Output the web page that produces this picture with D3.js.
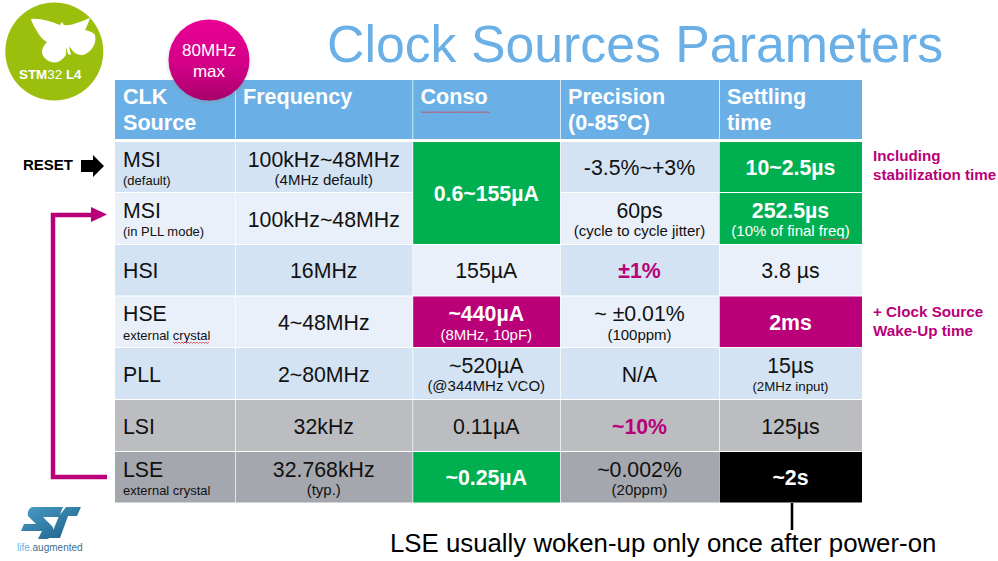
<!DOCTYPE html>
<html>
<head>
<meta charset="utf-8">
<script src="https://cdn.jsdelivr.net/npm/d3@7"></script>
<style>
  html, body { margin: 0; background: #fff; }
  text { font-family: "Liberation Sans", Arial, sans-serif; }
</style>
</head>
<body>
<svg id="chart" width="998" height="561"></svg>
<script>
var title = 'Clock Sources Parameters';
var headers = [['CLK', 'Source'], ['Frequency'], ['Conso'], ['Precision', '(0-85°C)'], ['Settling', 'time']];
var sources = ['MSI', 'MSI', 'HSI', 'HSE', 'PLL', 'LSI', 'LSE'];
var sourceNotes = ['(default)', '(in PLL mode)', '', 'external crystal', '', '', 'external crystal'];
var frequency = ['100kHz~48MHz', '100kHz~48MHz', '16MHz', '4~48MHz', '2~80MHz', '32kHz', '32.768kHz'];
var frequencyNotes = ['(4MHz default)', '', '', '', '', '', '(typ.)'];
var conso = ['0.6~155µA', '', '155µA', '~440µA', '~520µA', '0.11µA', '~0.25µA'];
var consoNotes = ['', '', '', '(8MHz, 10pF)', '(@344MHz VCO)', '', ''];
var precision = ['-3.5%~+3%', '60ps', '±1%', '~ ±0.01%', 'N/A', '~10%', '~0.002%'];
var precisionNotes = ['', '(cycle to cycle jitter)', '', '(100ppm)', '', '', '(20ppm)'];
var settling = ['10~2.5µs', '252.5µs', '3.8 µs', '2ms', '15µs', '125µs', '~2s'];
var settlingNotes = ['', '(10% of final freq)', '', '', '(2MHz input)', '', ''];

var mains = [sources, frequency, conso, precision, settling];
var notes = [sourceNotes, frequencyNotes, consoNotes, precisionNotes, settlingNotes];

var svg = d3.select('#chart');
var defs = svg.append('defs');

var blue = '#6ab0e6', rowDark = '#d3e3f4', rowLight = '#e9f0f9', gray1 = '#bbbdc1', gray2 = '#a5a7ae';
var green = '#00b050', magenta = '#b90078', ink = '#111';

// table grid
var x = d3.scaleLinear().domain([0, 1, 2, 3, 4, 5]).range([115, 235, 412.5, 560, 719, 862]);
var y = d3.scaleLinear().domain([0, 1, 2, 3, 4, 5, 6, 7]).range([142, 193, 245, 296.5, 348, 400, 452, 503.5]);

function cellFill(r, c) {
  if (r === 0 && c === 2 || r === 1 && c === 2) return green;
  if (c === 4 && r < 2) return green;
  if (r === 6 && c === 2) return green;
  if (r === 3 && (c === 2 || c === 4)) return magenta;
  if (r === 6 && c === 4) return '#000';
  if (r === 5) return gray1;
  if (r === 6) return gray2;
  if (r === 0 || r === 4) return rowDark;
  if (r === 2) return (c === 2 || c === 4) ? rowLight : rowDark;
  return rowLight;
}
function cellInk(r, c) {
  var f = cellFill(r, c);
  if (f === green || f === magenta || f === '#000') return '#fff';
  if ((r === 2 || r === 5) && c === 3) return magenta;
  return ink;
}

// header
var head = svg.append('g');
headers.forEach(function (lines, c) {
  head.append('rect').attr('x', x(c) + (c ? 0.7 : 0)).attr('y', 80)
    .attr('width', x(c + 1) - x(c) - (c ? 0.7 : 0)).attr('height', 59).attr('fill', blue);
  lines.forEach(function (t, i) {
    head.append('text').attr('x', x(c) + 8).attr('y', 104 + i * 26)
      .attr('font-size', 21.6).attr('font-weight', 'bold').attr('fill', '#fff').text(t);
  });
});

// body
var body = svg.append('g');
sources.forEach(function (s, r) {
  mains.forEach(function (col, c) {
    if (r === 1 && c === 2) return; // merged into the row above
    var span = (r === 0 && c === 2) ? 2 : 1;
    var x0 = x(c) + (c ? 0.7 : 0), x1 = x(c + 1), y0 = y(r), y1 = y(r + span) - 1;
    body.append('rect').attr('x', x0).attr('y', y0).attr('width', x1 - x0).attr('height', y1 - y0)
      .attr('fill', cellFill(r, c));

    var note = notes[c][r];
    var left = c === 0;
    var tx = left ? x(c) + 8 : (x(c) + x(c + 1)) / 2;
    var mid = (y0 + y1) / 2;
    var fill = cellInk(r, c);
    var strong = fill === '#fff' || fill === magenta;
    body.append('text')
      .attr('x', tx).attr('y', note ? y0 + 24.5 : mid + 8)
      .attr('text-anchor', left ? 'start' : 'middle')
      .attr('font-size', 21.3).attr('font-weight', strong ? 'bold' : 'normal')
      .attr('fill', fill).text(col[r]);
    if (note) {
      // settling notes run smaller than the rest of the value columns
      var noteSize = left ? 13 : (r === 4 && c === 4) ? 13.3 : 15;
      body.append('text')
        .attr('x', tx).attr('y', y0 + 43)
        .attr('text-anchor', left ? 'start' : 'middle')
        .attr('font-size', noteSize).attr('fill', fill).text(note);
    }
  });
});

// title
svg.append('text').attr('x', 327).attr('y', 62).attr('font-size', 51.8)
  .attr('fill', '#6ab0e6').text(title);

// spell check squiggles
function squiggle(x0, x1, yy) {
  var p = d3.path();
  p.moveTo(x0, yy);
  for (var px = x0 + 1.5, up = true; px <= x1; px += 1.5, up = !up) p.lineTo(px, yy + (up ? 1.5 : 0));
  svg.append('path').attr('d', p.toString()).attr('fill', 'none').attr('stroke', '#e0393c').attr('stroke-width', 0.8);
}
squiggle(421, 490, 111.5);
squiggle(822, 849, 238.5);
squiggle(173, 210, 342);

// 80MHz badge
var badge = defs.append('linearGradient').attr('id', 'badge').attr('x1', 0).attr('y1', 0).attr('x2', 0).attr('y2', 1);
badge.append('stop').attr('offset', 0).attr('stop-color', '#ea0095');
badge.append('stop').attr('offset', 0.55).attr('stop-color', '#d40088');
badge.append('stop').attr('offset', 1).attr('stop-color', '#a8006c');
var blur = defs.append('filter').attr('id', 'soft').attr('x', '-20%').attr('y', '-20%').attr('width', '140%').attr('height', '140%');
blur.append('feGaussianBlur').attr('stdDeviation', 2);
svg.append('circle').attr('cx', 209).attr('cy', 62).attr('r', 40).attr('fill', '#888').attr('opacity', 0.5).attr('filter', 'url(#soft)');
svg.append('circle').attr('cx', 209).attr('cy', 60).attr('r', 40.5).attr('fill', 'url(#badge)');
['80MHz', 'max'].forEach(function (t, i) {
  svg.append('text').attr('x', 209).attr('y', 56 + i * 21).attr('text-anchor', 'middle')
    .attr('font-size', 17).attr('fill', '#fff').text(t);
});

// STM32 L4 logo
svg.append('circle').attr('cx', 54.3).attr('cy', 51.5).attr('r', 49).attr('fill', '#9cbf0e');
svg.append('path').attr('fill', '#fff')
  .attr('d', 'M31 19 C40 18 52 22 60 25 L62 22 L64 25 C72 26 82 21 90 18 C88 24 86 28 85 30 C90 31 94 33 95 35 C96 40 95 44 93 47 C90 52 86 54 83 55 C78 55 74 53 72 50 L69 46 L71 55 L68 54 L66 47 L66 55 C63 59 60 61 58 62 C54 63 50 62 47 60 C44 58 42 55 42 52 C42 48 44 45 47 42 C43 40 40 36 38 33 C35 28 32 23 31 19 Z');
var brand = svg.append('text').attr('x', 19).attr('y', 78.5).attr('font-size', 13.4).attr('font-weight', 'bold').attr('fill', '#fff');
brand.append('tspan').text('STM');
brand.append('tspan').attr('font-weight', 'normal').text('32 ');
brand.append('tspan').text('L4');

// RESET arrow
svg.append('text').attr('x', 23).attr('y', 170).attr('font-size', 15).attr('font-weight', 'bold').attr('fill', '#000').text('RESET');
svg.append('path').attr('fill', '#000').attr('d', 'M81 160 H93 V155 L104 166 L93 177 V172 H81 Z');

// wake-up bracket from LSE back to MSI
svg.append('path').attr('fill', 'none').attr('stroke', magenta).attr('stroke-width', 4.5)
  .attr('d', 'M107 477 H53 V215 H94');
svg.append('path').attr('fill', magenta).attr('d', 'M91 207 L107 214.5 L91 222 Z');

// side notes
function sideNote(lines, yy) {
  lines.forEach(function (t, i) {
    svg.append('text').attr('x', 873).attr('y', yy + i * 18.5).attr('font-size', 15.2)
      .attr('font-weight', 'bold').attr('fill', magenta).text(t);
  });
}
sideNote(['Including', 'stabilization time'], 161);
sideNote(['+ Clock Source', 'Wake-Up time'], 317);

// bottom note
svg.append('line').attr('x1', 792).attr('x2', 792).attr('y1', 503).attr('y2', 530).attr('stroke', '#000').attr('stroke-width', 2.6);
svg.append('text').attr('x', 390).attr('y', 552).attr('font-size', 25.8).attr('fill', '#000')
  .text('LSE usually woken-up only once after power-on');

// ST logo
var st = defs.append('linearGradient').attr('id', 'st').attr('x1', 0).attr('y1', 0).attr('x2', 1).attr('y2', 1);
st.append('stop').attr('offset', 0).attr('stop-color', '#4a9cc7');
st.append('stop').attr('offset', 1).attr('stop-color', '#1c5f86');
svg.append('path').attr('fill', 'url(#st)')
  .attr('d', 'M32 507 H63 L59 517 H43 L52 526 C55 530 53 538 47 539 H38 L42 531 H21 L24 524 H36 L28 516 C27 513 29 508 32 507 Z M66 507 H81 L77 516 H68 L60 538 H50 L59 516 Z');
var tag = svg.append('text').attr('x', 17).attr('y', 550.5).attr('font-size', 10);
tag.append('tspan').attr('fill', '#6ab0e6').text('life.');
tag.append('tspan').attr('fill', '#3d6f90').text('augmented');
</script>
</body>
</html>
